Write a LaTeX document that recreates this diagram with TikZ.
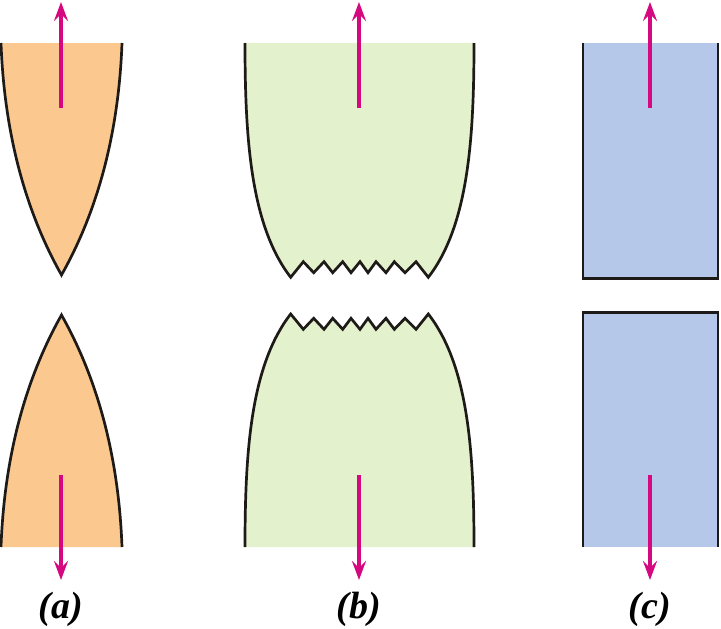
\documentclass[tikz,border=0pt]{standalone}
\usepackage{xcolor}
\usepackage{fontspec}
\setmainfont{Liberation Serif}
\usetikzlibrary{arrows.meta}
\definecolor{orangefill}{HTML}{FBC98F}
\definecolor{greenfill}{HTML}{E3F2CC}
\definecolor{bluefill}{HTML}{B5C8E9}
\definecolor{pullcolor}{HTML}{D5087F}
\definecolor{edgecolor}{HTML}{1E1A17}
\tikzset{
  edge/.style={draw=edgecolor, line width=2.7pt, line join=miter},
  pull/.style={draw=pullcolor, line width=3.6pt, -{Stealth[length=19pt, width=14pt, inset=7pt]}},
  caption/.style={font=\fontsize{38}{40}\selectfont\bfseries\itshape, text=black, inner sep=0pt}
}
\begin{document}
\begin{tikzpicture}[x=1pt, y=-1pt]
  \useasboundingbox (0,0) rectangle (721,629);
  % Piece (a)
  \fill[orangefill] (1,43) .. controls (4,125) and (22,205) .. (61.5,275) .. controls (101,205) and (119,125) .. (122,43) -- cycle;
  \draw[edge] (1,43) .. controls (4,125) and (22,205) .. (61.5,275) .. controls (101,205) and (119,125) .. (122,43);
  \fill[orangefill] (1,547) .. controls (4,465) and (22,385) .. (61.5,315) .. controls (101,385) and (119,465) .. (122,547) -- cycle;
  \draw[edge] (1,547) .. controls (4,465) and (22,385) .. (61.5,315) .. controls (101,385) and (119,465) .. (122,547);

  % Piece (b)
  \def\topteeth{(290.7,277.3) -- (303.3,261.7) -- (313.7,272.7) -- (324,261.7) -- (332.7,272.7) -- (342.7,261.7) -- (351,272.7) -- (360,261.7) -- (368,272.7) -- (376,261.7) -- (386,272.7) -- (394.3,261.7) -- (405,272.7) -- (416,261.7) -- (428.3,277.3)}
  \def\lowteeth{(290.7,314) -- (303.3,329.3) -- (313.7,318.3) -- (324,329.3) -- (332.7,318.3) -- (342.7,329.3) -- (351,318.3) -- (360,329.3) -- (368,318.3) -- (376,329.3) -- (386,318.3) -- (394.3,329.3) -- (405,318.3) -- (416,329.3) -- (428.3,314)}
  \fill[greenfill] (245,43) .. controls (245,140) and (251,226) .. \topteeth .. controls (468,226) and (474,140) .. (474,43) -- cycle;
  \draw[edge] (245,43) .. controls (245,140) and (251,226) .. \topteeth .. controls (468,226) and (474,140) .. (474,43);
  \fill[greenfill] (245,547) .. controls (245,450) and (251,365) .. \lowteeth .. controls (468,365) and (474,450) .. (474,547) -- cycle;
  \draw[edge] (245,547) .. controls (245,450) and (251,365) .. \lowteeth .. controls (468,365) and (474,450) .. (474,547);

  % Block (c)
  \fill[bluefill] (583,43) rectangle (718,278.5);
  \draw[edge] (583,43) -- (583,278.5) -- (718,278.5) -- (718,43);
  \fill[bluefill] (583,312.5) rectangle (718,547);
  \draw[edge] (583,547) -- (583,312.5) -- (718,312.5) -- (718,547);

  % Pull arrows
  \foreach \name/\xpos in {a/61, b/359, c/650} {
    \coordinate (\name upstart) at (\xpos,108);
    \coordinate (\name upend) at (\xpos,2);
    \coordinate (\name downstart) at (\xpos,475);
    \coordinate (\name downend) at (\xpos,580);
    \draw[pull] (\name upstart) -- (\name upend);
    \draw[pull] (\name downstart) -- (\name downend);
  }

  % Captions
  \node[caption] (labela) at (61,609) {(a)};
  \node[caption] (labelb) at (359,609) {(b)};
  \node[caption] (labelc) at (650,609) {(c)};
\end{tikzpicture}
\end{document}
